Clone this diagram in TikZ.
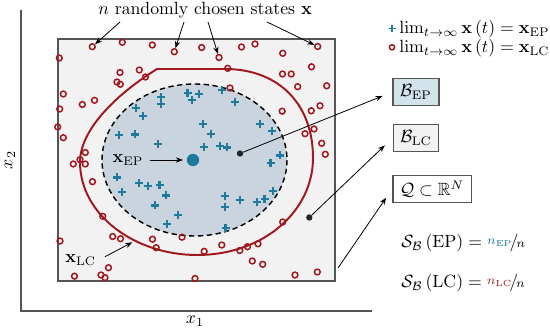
\documentclass[tikz,border=0pt]{standalone}
\usepackage{amssymb}
\usetikzlibrary{arrows.meta}
\definecolor{lcred}{HTML}{A0181E}
\definecolor{epteal}{HTML}{1E7B9B}
\definecolor{ellfill}{HTML}{C9D4DF}
\definecolor{boxfill}{HTML}{F2F2F2}
\definecolor{bepfill}{HTML}{D3E3EB}
\definecolor{edgegray}{HTML}{555555}
\tikzset{
  lcmark/.style={draw=lcred, line width=0.85pt},
  epmark/.style={draw=epteal, line width=1.2pt},
  lctarget/.style={circle, draw=lcred, line width=0.85pt, inner sep=0pt, minimum size=3.3pt},
  conn/.style={-{Stealth[length=4pt,width=3pt]}, line width=0.45pt},
  labelbox/.style={draw=edgegray, line width=0.8pt, minimum height=15pt, inner xsep=4pt, inner ysep=3pt},
  dotnode/.style={circle, fill=black!85, inner sep=0pt, minimum size=3.6pt},
  txt/.style={inner sep=0pt, anchor=base west},
}
\newcommand{\myfrac}[2]{\raisebox{0.45ex}{$\scriptstyle #1$}\!/\!\hspace{0.5pt}{\scriptstyle #2}}
\begin{document}
\begin{tikzpicture}[x=0.565pt,y=-0.565pt]
\useasboundingbox (0,0) rectangle (550,330);
% axes
\draw[edgegray, line width=0.7pt] (21,10) -- (21,311) -- (372,311);
\node (xone) at (195,321) {$x_1$};
\node[rotate=90] (xtwo) at (10,160) {$x_2$};
% state space box
\draw[fill=boxfill, draw=edgegray, line width=0.8pt] (58,39) rectangle (335,281);
% basin of EP
\draw[fill=ellfill, line width=0.8pt, dash pattern=on 3pt off 2pt] (194.5,160) ellipse [x radius=92.5, y radius=76];
% limit cycle
\draw[lcred, line width=1.1pt] (157,69) -- (227,69)
  .. controls (280,70) and (313,105) .. (313,158)
  .. controls (313,210) and (265,255) .. (197,255)
  .. controls (135,255) and (80,215) .. (80,162)
  .. controls (80,132) and (112,97) .. (157,69) -- cycle;
% EP samples
\foreach \x/\y in {161/97, 161/103.7, 187.5/93, 199.2/94.3, 192.3/100, 222.3/90, 235.3/101.7, 135.8/108, 143/116, 119.3/135.2, 134.7/134.5, 157.8/144, 203.3/124.2, 210.7/133.7, 203.7/147, 220/146, 227.3/147.5, 260.2/123.8, 271.7/131.2, 279.7/155.5, 270.5/162.8, 117/177.5, 139/182.7, 147.7/186.3, 159.5/185.3, 122/192.3, 166.2/195.5, 154.7/205.5, 178.3/215, 167/224.2, 225/195.8, 225/207, 239.7/200, 257.2/201.7, 264.5/198.8, 273/191.3, 225.5/228}
  {\draw[epmark] (\x-4,\y) -- (\x+4,\y) (\x,\y-4) -- (\x,\y+4);}
% LC samples
\foreach \x/\y in {122.3/42.3, 152.3/45, 201.7/47.5, 241.5/47, 255/44, 282.7/53.3, 59.3/58, 120/72.5, 139.3/70, 145.5/77, 117/82, 120.3/84.3, 63.3/94, 94.5/100.3, 82.3/104.5, 59.7/109, 57.7/127, 63.3/137.7, 85.3/152.5, 80/159.7, 73.3/164, 85.3/164, 92.5/181.7, 102.7/216.3, 60/241, 112.7/236.5, 120.5/238.7, 152.5/239.2, 156.2/247.7, 182/237.2, 108.5/267.7, 101/275, 105/277.7, 74.5/276.2, 195/278.5, 227.7/68.3, 282.5/74, 291.2/74, 311.5/66.8, 297.7/86.7, 326.7/85.8, 230/88, 282.2/111.2, 311.3/110.8, 320/105.8, 314/129, 305/133.7, 321.7/143.3, 325.3/154.3, 282.7/222, 221.8/245, 204.2/251.3, 239.8/250.5, 247.5/246.7, 258/243.8, 252.3/261, 262.7/264.3, 295/275, 317.3/272}
  {\draw[lcmark] (\x,\y) circle (2.9);}
\node[lctarget] (c1) at (92.3,46.7) {};
\node[lctarget] (c2) at (174.3,51.7) {};
\node[lctarget] (c3) at (219,57.5) {};
\node[lctarget] (c4) at (317.7,46.5) {};
% title and arrows
\node[txt] (title) at (98,15) {$n$ randomly chosen states $\mathbf{x}$};
\coordinate (t1) at (120,22);
\coordinate (t2) at (184,22);
\coordinate (t3) at (208,22);
\coordinate (t4) at (267,22);
\draw[conn] (t1) -- (c1);
\draw[conn] (t2) -- (c2);
\draw[conn] (t3) -- (c3);
\draw[conn] (t4) -- (c4);
% equilibrium point
\node[circle, fill=epteal, inner sep=0pt, minimum size=7pt] (xep) at (193,160) {};
\node (xeplbl) at (128,160) {$\mathbf{x}_{\mathrm{EP}}$};
\draw[conn, shorten >=2pt] (xeplbl) -- (xep);
% limit cycle label
\node[txt] (xlclbl) at (65,263) {$\mathbf{x}_{\mathrm{LC}}$};
\coordinate (lcpt) at (132.3,242.3);
\draw[conn] (105,256.7) -- (lcpt);
% dots and boxes
\node[dotnode] (dep) at (240,153.5) {};
\node[dotnode] (dlc) at (309.3,217.5) {};
\coordinate (qstart) at (338,268);
\node[labelbox, fill=bepfill] (bep) at (416,92) {$\mathcal{B}_{\mathrm{EP}}$};
\node[labelbox, fill=boxfill] (blc) at (416,138) {$\mathcal{B}_{\mathrm{LC}}$};
\node[labelbox, fill=white] (qbox) at (432,189) {$\mathcal{Q}\subset\mathbb{R}^N$};
\draw[conn, shorten >=6pt] (dep) -- (bep.west);
\draw[conn, shorten >=6pt] (dlc) -- (blc.west);
\draw[conn, shorten >=6pt] (qstart) -- (qbox.west);
% legend
\draw[epmark, line width=1pt] (388.5,28.5) -- (395.5,28.5) (392,25) -- (392,32);
\draw[lcmark] (392,47.3) circle (2.6);
\node[txt] (leg1) at (399,34) {$\lim_{t\to\infty}\mathbf{x}\left(t\right)=\mathbf{x}_{\mathrm{EP}}$};
\node[txt] (leg2) at (399,53) {$\lim_{t\to\infty}\mathbf{x}\left(t\right)=\mathbf{x}_{\mathrm{LC}}$};
% basin stability
\node[txt] (sep) at (401,248) {$\mathcal{S}_{\mathcal{B}}\left(\mathrm{EP}\right)=\myfrac{\color{epteal}n_{\mathrm{EP}}}{n}$};
\node[txt] (slc) at (401,288) {$\mathcal{S}_{\mathcal{B}}\left(\mathrm{LC}\right)=\myfrac{\color{lcred}n_{\mathrm{LC}}}{n}$};
\end{tikzpicture}
\end{document}
